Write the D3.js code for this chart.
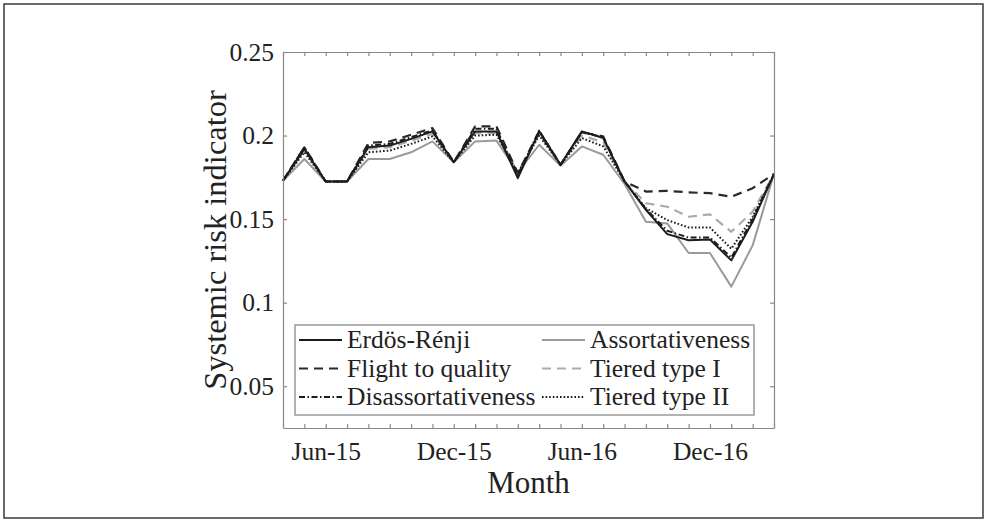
<!DOCTYPE html>
<html>
<head>
<meta charset="utf-8">
<script src="https://cdn.jsdelivr.net/npm/d3@7"></script>
<style>
  html, body { margin: 0; padding: 0; background: #ffffff; }
  svg { display: block; }
  text { font-family: "Liberation Serif", "Times New Roman", serif; fill: #222; }
</style>
</head>
<body>
<svg id="chart" width="986" height="521"></svg>
<script>
// ---- Data ----
const months = ["Apr-15","May-15","Jun-15","Jul-15","Aug-15","Sep-15","Oct-15","Nov-15","Dec-15","Jan-16","Feb-16","Mar-16",
                "Apr-16","May-16","Jun-16","Jul-16","Aug-16","Sep-16","Oct-16","Nov-16","Dec-16","Jan-17","Feb-17","Mar-17"];
const xTickLabels = ["Jun-15","Dec-15","Jun-16","Dec-16"];
const yTicks = [0.05, 0.1, 0.15, 0.2, 0.25];

const erdosRenji = [0.173,0.192,0.1725,0.1725,0.193,0.194,0.198,0.2025,0.184,0.2025,0.2025,0.1745,
                    0.2025,0.1825,0.2025,0.1985,0.1725,0.1555,0.141,0.1373,0.1378,0.1253,0.1484,0.177];
const assortativeness = [0.173,0.186,0.1725,0.1725,0.186,0.186,0.19,0.1965,0.184,0.1965,0.197,0.178,
                         0.1945,0.182,0.1935,0.1885,0.171,0.1484,0.1474,0.1297,0.1297,0.1096,0.1343,0.177];
const flightToQuality = [0.173,0.193,0.1725,0.1725,0.1955,0.1965,0.2005,0.2045,0.184,0.2055,0.2055,0.1775,
                         0.2025,0.1825,0.202,0.1995,0.1725,0.1665,0.1669,0.166,0.1655,0.1634,0.1685,0.177];
const tieredTypeI = [0.173,0.191,0.1725,0.1725,0.192,0.193,0.197,0.201,0.184,0.2015,0.2015,0.1775,
                     0.201,0.1825,0.2,0.196,0.1725,0.1595,0.1574,0.1514,0.1528,0.1424,0.1545,0.177];
const disassortativeness = [0.173,0.193,0.1725,0.1725,0.194,0.195,0.199,0.203,0.184,0.204,0.204,0.176,
                            0.203,0.1825,0.202,0.199,0.1725,0.156,0.143,0.139,0.139,0.127,0.15,0.177];
const tieredTypeII = [0.173,0.19,0.1725,0.1725,0.19,0.191,0.195,0.1995,0.184,0.2,0.2005,0.1775,
                      0.2,0.1825,0.1985,0.1935,0.1725,0.1565,0.1494,0.145,0.145,0.1323,0.1514,0.177];

const seriesNames = ["Erdös-Rénji","Assortativeness","Flight to quality","Tiered type I","Disassortativeness","Tiered type II"];

// ---- Styles ----
const styles = {
  "Erdös-Rénji":        {color:"#1c1c1c", dash:null,        width:2.0},
  "Assortativeness":    {color:"#9a9a9a", dash:null,        width:2.0},
  "Flight to quality":  {color:"#2a2a2a", dash:"9,6",       width:2.2},
  "Tiered type I":      {color:"#ababab", dash:"9,6",       width:2.2},
  "Disassortativeness": {color:"#1c1c1c", dash:"6,2.5,1.5,2.5", width:2.0},
  "Tiered type II":     {color:"#1c1c1c", dash:"1.6,2",     width:2.0}
};

const seriesValues = {
  "Erdös-Rénji": erdosRenji,
  "Assortativeness": assortativeness,
  "Flight to quality": flightToQuality,
  "Tiered type I": tieredTypeI,
  "Disassortativeness": disassortativeness,
  "Tiered type II": tieredTypeII
};

const svg = d3.select("#chart");
const L = 283, R = 774, T = 52, B = 428;
const axisColor = "#8a8a8a";

// outer frame
svg.append("rect").attr("x",4).attr("y",4).attr("width",979).attr("height",514)
  .attr("fill","#fff").attr("stroke","#3a3a3a").attr("stroke-width",1.5);

const x = d3.scalePoint().domain(months).range([L, R]);
const y = d3.scaleLinear().domain([0.025, 0.25]).range([B, T]);

// plot background
svg.append("rect").attr("x",L).attr("y",T).attr("width",R-L).attr("height",B-T).attr("fill","#fff");

// lines
const line = d3.line().x((d,i)=>x(months[i])).y(d=>y(d));
const drawOrder = ["Assortativeness","Tiered type I","Tiered type II","Flight to quality","Disassortativeness","Erdös-Rénji"];
drawOrder.forEach(name => {
  const s = styles[name];
  svg.append("path").datum(seriesValues[name])
    .attr("d", line)
    .attr("fill","none")
    .attr("stroke", s.color)
    .attr("stroke-width", s.width)
    .attr("stroke-dasharray", s.dash)
    .attr("stroke-linejoin","round");
});

// axes
function styleAxis(g){
  g.selectAll("path.domain").attr("stroke", axisColor).attr("stroke-width",1.2);
  g.selectAll(".tick line").attr("stroke", axisColor).attr("stroke-width",1.2);
  g.selectAll(".tick text").attr("font-family","Liberation Serif, serif").attr("font-size",25.5).attr("fill","#2a2a2a");
}
const xb = svg.append("g").attr("transform",`translate(0,${B})`)
  .call(d3.axisBottom(x).tickValues(months).tickSizeInner(-4).tickSizeOuter(0).tickPadding(14)
        .tickFormat(d => xTickLabels.includes(d) ? d : ""));
styleAxis(xb);
const xt = svg.append("g").attr("transform",`translate(0,${T})`)
  .call(d3.axisTop(x).tickValues(months).tickSizeInner(-4).tickSizeOuter(0).tickFormat(""));
styleAxis(xt);
const yl = svg.append("g").attr("transform",`translate(${L},0)`)
  .call(d3.axisLeft(y).tickValues(yTicks).tickSizeInner(-4).tickSizeOuter(0).tickPadding(9)
        .tickFormat(d => String(d)));
styleAxis(yl);
const yr = svg.append("g").attr("transform",`translate(${R},0)`)
  .call(d3.axisRight(y).tickValues(yTicks).tickSizeInner(-4).tickSizeOuter(0).tickFormat(""));
styleAxis(yr);

// axis titles
svg.append("text").attr("x",(L+R)/2).attr("y",493).attr("text-anchor","middle")
  .attr("font-size",31).text("Month");
svg.append("text").attr("transform",`translate(226,${(T+B)/2}) rotate(-90)`).attr("text-anchor","middle")
  .attr("font-size",32.5).text("Systemic risk indicator");

// legend
const lg = svg.append("g");
lg.append("rect").attr("x",295).attr("y",325).attr("width",459).attr("height",90)
  .attr("fill","#fff").attr("stroke","#8a8a8a").attr("stroke-width",1.3);
const legendLayout = [
  ["Erdös-Rénji", 0, 0], ["Flight to quality", 0, 1], ["Disassortativeness", 0, 2],
  ["Assortativeness", 1, 0], ["Tiered type I", 1, 1], ["Tiered type II", 1, 2]
];
const colX = [[299,342,347],[542,585,590]];
const rowY = [340, 368.5, 397];
legendLayout.forEach(([name,c,r]) => {
  const s = styles[name];
  lg.append("line").attr("x1",colX[c][0]).attr("x2",colX[c][1]).attr("y1",rowY[r]).attr("y2",rowY[r])
    .attr("stroke",s.color).attr("stroke-width",s.width).attr("stroke-dasharray",s.dash);
  lg.append("text").attr("x",colX[c][2]).attr("y",rowY[r]).attr("dy","0.33em")
    .attr("font-size",25.5).text(name);
});
</script>
</body>
</html>
